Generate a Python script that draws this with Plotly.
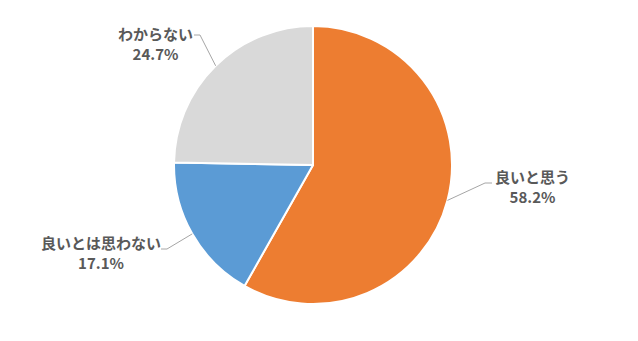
import math
import plotly.graph_objects as go

# ---- data ----
categories = ["良いと思う", "良いとは思わない", "わからない"]
values = [58.2, 17.1, 24.7]
colors = ["#ED7D31", "#5B9BD5", "#D9D9D9"]

W, H = 638, 341
CX, CY, R = 313, 165, 139

fig = go.Figure(go.Pie(
    labels=categories,
    values=values,
    sort=False,
    direction="clockwise",
    rotation=0,
    marker=dict(colors=colors, line=dict(color="white", width=2)),
    textinfo="none",
    hoverinfo="label+percent",
    domain=dict(x=[(CX - R) / W, (CX + R) / W], y=[(H - CY - R) / H, (H - CY + R) / H]),
    showlegend=False,
))

# label layout (pixel positions): text centre, elbow point, end of horizontal stub
label_layout = [
    dict(tx=532, ty=186, elbow=(485, 183), stub=(492, 183)),
    dict(tx=101, ty=252, elbow=(167, 249), stub=(161, 249)),
    dict(tx=155, ty=43, elbow=(200, 35), stub=(194, 35)),
]

def px(x, y):
    return x / W, 1 - y / H

total = sum(values)
cum = 0
shapes = []
annotations = []
for cat, v, lay in zip(categories, values, label_layout):
    mid = (cum + v / 2) / total * 2 * math.pi
    cum += v
    ex = CX + R * math.sin(mid)
    ey = CY - R * math.cos(mid)
    p0 = px(ex, ey)
    p1 = px(*lay["elbow"])
    p2 = px(*lay["stub"])
    shapes.append(dict(
        type="path", xref="paper", yref="paper",
        path=f"M {p0[0]},{p0[1]} L {p1[0]},{p1[1]} L {p2[0]},{p2[1]}",
        line=dict(color="#A6A6A6", width=1),
    ))
    tx, ty = px(lay["tx"], lay["ty"])
    annotations.append(dict(
        x=tx, y=ty, xref="paper", yref="paper",
        text=f"{cat}<br>{v:.1f}%",
        showarrow=False, align="center",
        xanchor="center", yanchor="middle",
        font=dict(family="Noto Sans CJK JP", size=15, color="#595959", weight="bold"),
    ))

fig.update_layout(
    width=W, height=H,
    margin=dict(l=0, r=0, t=0, b=0),
    paper_bgcolor="white",
    plot_bgcolor="white",
    shapes=shapes,
    annotations=annotations,
)

fig.write_html("out.html")
